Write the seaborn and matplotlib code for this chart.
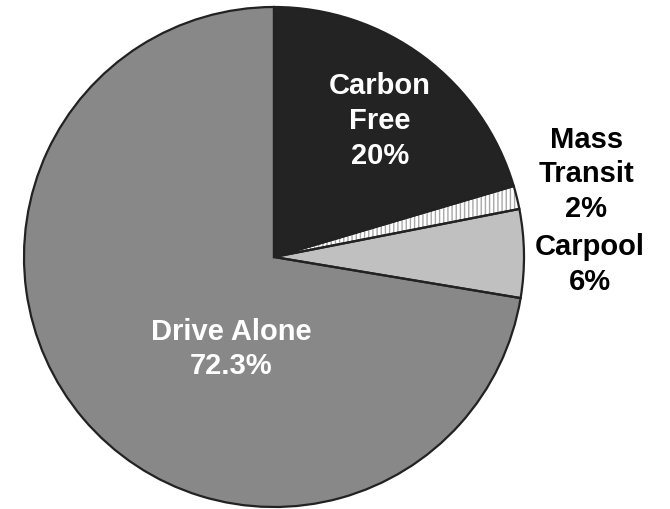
import matplotlib
matplotlib.use('Agg')
import matplotlib.pyplot as plt
import seaborn as sns

sns.set_theme(style="white")
plt.rcParams['font.family'] = ['Liberation Sans', 'DejaVu Sans']
plt.rcParams['hatch.linewidth'] = 1.0

# shares (labels show the rounded numbers)
categories = ['Carbon Free', 'Mass Transit', 'Carpool', 'Drive Alone']
shares = [20.4, 1.5, 5.7, 72.3]
label_texts = ['Carbon\nFree\n20%', 'Mass\nTransit\n2%', 'Carpool\n6%', 'Drive Alone\n72.3%']
fill_colors = ['#232323', '#ffffff', '#c0c0c0', '#888888']
hatches = [None, '||||', None, None]

fig = plt.figure(figsize=(6.7, 5.09), dpi=100)
ax = fig.add_axes([24 / 670, 2 / 509, 500 / 670, 500 / 509])

# fill + hatch layer (hatch colour follows edge colour, so no outline here)
wedges, _ = ax.pie(shares, colors=fill_colors, startangle=90, counterclock=False,
                   radius=1.0, wedgeprops=dict(linewidth=0))
for w, h in zip(wedges, hatches):
    if h:
        w.set_hatch(h)
        w.set_edgecolor('#a8a8a8')
        w.set_linewidth(0)

# outline layer
ax.pie(shares, colors=['none'] * len(shares), startangle=90, counterclock=False,
       radius=1.0, wedgeprops=dict(linewidth=1.6, edgecolor='#222222', fill=False))

# label placement in pie units
label_pos = [(0.424, 0.544), (1.25, 0.33), (1.265, -0.03), (-0.172, -0.368)]
label_colors = ['white', 'black', 'black', 'white']
for txt, (x, y), c in zip(label_texts, label_pos, label_colors):
    ax.text(x, y, txt, ha='center', va='center', color=c, fontsize=21,
            fontweight='bold', linespacing=1.3)

ax.set_xlim(-1, 1)
ax.set_ylim(-1, 1)
ax.set_aspect('equal')
ax.axis('off')

fig.savefig('out.png', dpi=100)
